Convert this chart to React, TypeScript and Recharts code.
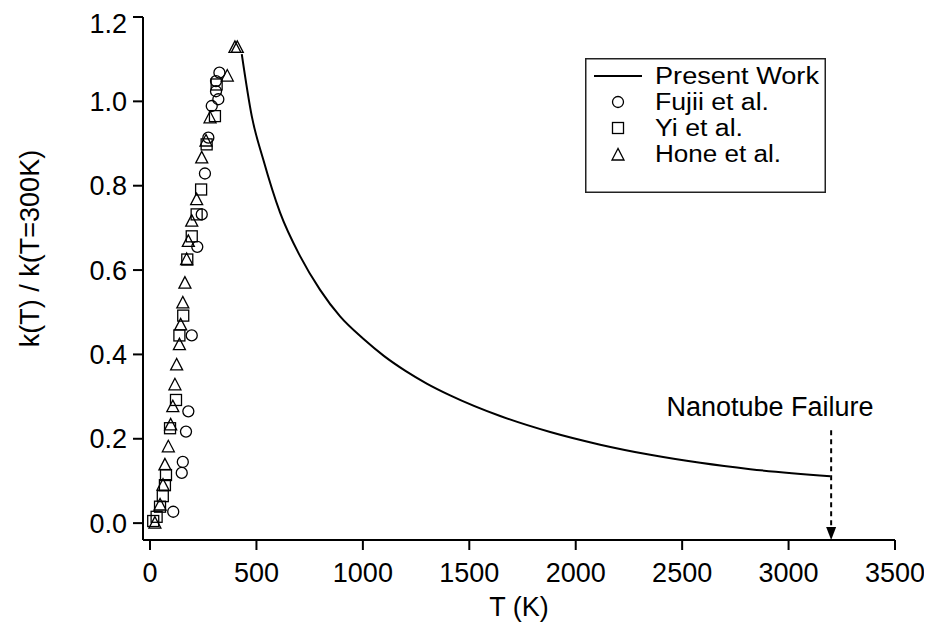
import {
  ComposedChart,
  Line,
  Scatter,
  XAxis,
  YAxis,
  Legend,
  ReferenceLine,
  ReferenceDot,
  Label,
} from "recharts";

const FONT = "'Liberation Sans', Arial, sans-serif";
const FS = 27;

// Present Work (model curve)
const presentT = [431, 478, 532, 611, 705, 799, 893, 1002, 1100, 1200, 1300, 1410, 1645, 1880, 2115, 2350, 2585, 2820, 3196];
const presentK = [1.112, 0.965, 0.862, 0.736, 0.633, 0.553, 0.49, 0.437, 0.396, 0.361, 0.331, 0.303, 0.254, 0.216, 0.186, 0.162, 0.143, 0.128, 0.111];

// Fujii et al.
const fujiiT = [109, 149, 154, 169, 180, 196, 222, 243, 258, 274, 290, 321, 310, 310, 326];
const fujiiK = [0.027, 0.119, 0.145, 0.217, 0.265, 0.445, 0.655, 0.732, 0.829, 0.914, 0.989, 1.005, 1.024, 1.048, 1.068];

// Yi et al.
const yiT = [15, 31, 47, 60, 70, 75, 94, 122, 138, 156, 175, 196, 219, 240, 266, 305, 313];
const yiK = [0.005, 0.015, 0.039, 0.064, 0.09, 0.114, 0.225, 0.292, 0.445, 0.492, 0.625, 0.68, 0.732, 0.791, 0.898, 0.965, 1.04];

// Hone et al.
const honeT = [23, 47, 61, 70, 86, 97, 107, 117, 125, 138, 144, 154, 164, 172, 180, 196, 219, 243, 263, 282, 363, 399, 410];
const honeK = [0.0, 0.043, 0.09, 0.138, 0.181, 0.233, 0.276, 0.328, 0.375, 0.423, 0.47, 0.522, 0.569, 0.625, 0.668, 0.716, 0.767, 0.866, 0.906, 0.961, 1.06, 1.128, 1.128];

const xTicks = [0, 500, 1000, 1500, 2000, 2500, 3000, 3500];
const yTicks = [0, 0.2, 0.4, 0.6, 0.8, 1.0, 1.2];

const failureT = 3200;

const toPoints = (ts: number[], ks: number[]) => ts.map((T, i) => ({ T, k: ks[i] }));

const presentData = toPoints(presentT, presentK);
const fujiiData = toPoints(fujiiT, fujiiK);
const yiData = toPoints(yiT, yiK);
const honeData = toPoints(honeT, honeK);

const CircleMark = (p: any) => (
  <circle cx={p.cx} cy={p.cy} r={5.5} fill="none" stroke="#000" strokeWidth={1.3} />
);
const SquareMark = (p: any) => (
  <rect x={p.cx - 5.5} y={p.cy - 5.5} width={11} height={11} fill="none" stroke="#000" strokeWidth={1.3} />
);
const TriangleMark = (p: any) => (
  <polygon
    points={`${p.cx},${p.cy - 6.5} ${p.cx - 6},${p.cy + 5} ${p.cx + 6},${p.cy + 5}`}
    fill="none"
    stroke="#000"
    strokeWidth={1.3}
  />
);

const FailureArrow = (p: any) => {
  const { x1, y1, x2, y2 } = p;
  return (
    <g>
      <line x1={x1} y1={y1} x2={x2} y2={y2 - 10} stroke="#000" strokeWidth={2} strokeDasharray="5 4" />
      <polygon points={`${x2},${y2} ${x2 - 5},${y2 - 13} ${x2 + 5},${y2 - 13}`} fill="#000" />
    </g>
  );
};

const FailureText = (p: any) => (
  <text x={p.cx} y={p.cy} textAnchor="middle" dominantBaseline="central" fontSize={FS} fontFamily={FONT} fill="#000">
    Nanotube Failure
  </text>
);

const legendRows = [
  { name: "Present Work", kind: "line", w: 164 },
  { name: "Fujii et al.", kind: "circle", w: 114 },
  { name: "Yi et al.", kind: "square", w: 88 },
  { name: "Hone et al.", kind: "triangle", w: 126 },
];

// legend box drawn as svg so the rows can sit as tight as in the original
const LegendBox = () => (
  <svg width={241} height={135} style={{ display: "block" }}>
    <rect x={0.75} y={0.75} width={239.5} height={133.5} fill="#fff" stroke="#222" strokeWidth={1.5} />
    {legendRows.map((r, i) => {
      const cy = 18 + i * 26;
      return (
        <g key={r.name}>
          {r.kind === "line" && <line x1={9} y1={cy} x2={57} y2={cy} stroke="#000" strokeWidth={2} />}
          {r.kind === "circle" && <CircleMark cx={33} cy={cy} />}
          {r.kind === "square" && <SquareMark cx={33} cy={cy} />}
          {r.kind === "triangle" && <TriangleMark cx={33} cy={cy + 1} />}
          <text
            x={70}
            y={cy}
            dominantBaseline="central"
            fontSize={23}
            fontFamily={FONT}
            fill="#000"
            textLength={r.w}
            lengthAdjust="spacingAndGlyphs"
          >
            {r.name}
          </text>
        </g>
      );
    })}
  </svg>
);

export default function App() {
  return (
    <div style={{ width: 916, height: 622, fontFamily: FONT }}>
      <ComposedChart width={916} height={622} margin={{ top: 9, right: 29, left: 0, bottom: 10 }}>
        <XAxis
          type="number"
          dataKey="T"
          domain={[-33, 3500]}
          ticks={xTicks}
          allowDataOverflow
          height={80}
          axisLine={{ stroke: "#000", strokeWidth: 2 }}
          tickLine={{ stroke: "#000", strokeWidth: 2 }}
          tickSize={10}
          tickMargin={13}
          tick={{ fontSize: FS, fill: "#000", fontFamily: FONT }}
        >
          <Label
            content={(props: any) => {
              const vb = props.viewBox;
              return (
                <text
                  x={vb.x + vb.width / 2}
                  y={vb.y + 67}
                  textAnchor="middle"
                  dominantBaseline="central"
                  fontSize={FS}
                  fontFamily={FONT}
                  fill="#000"
                >
                  T (K)
                </text>
              );
            }}
          />
        </XAxis>
        <YAxis
          type="number"
          dataKey="k"
          domain={[-0.04, 1.2]}
          ticks={yTicks}
          allowDataOverflow
          width={135}
          axisLine={{ stroke: "#000", strokeWidth: 2 }}
          tickLine={{ stroke: "#000", strokeWidth: 2 }}
          tickSize={10}
          tickMargin={6}
          tickFormatter={(v: number) => v.toFixed(1)}
          tick={{ fontSize: FS, fill: "#000", fontFamily: FONT }}
        >
          <Label
            content={(props: any) => {
              const vb = props.viewBox;
              const cx = 22;
              const cy = vb.y + vb.height / 2 - 30;
              return (
                <text
                  x={cx}
                  y={cy}
                  transform={`rotate(-90 ${cx} ${cy})`}
                  textAnchor="middle"
                  dominantBaseline="central"
                  fontSize={FS}
                  fontFamily={FONT}
                  fill="#000"
                >
                  k(T) / k(T=300K)
                </text>
              );
            }}
          />
        </YAxis>
        <Legend
          layout="vertical"
          align="center"
          verticalAlign="middle"
          content={() => <LegendBox />}
          wrapperStyle={{ left: 577, top: 50, width: "auto", height: "auto" }}
        />
        <Scatter name="Fujii et al." data={fujiiData} shape={CircleMark} isAnimationActive={false} />
        <Scatter name="Yi et al." data={yiData} shape={SquareMark} isAnimationActive={false} />
        <Scatter name="Hone et al." data={honeData} shape={TriangleMark} isAnimationActive={false} />
        <Line
          name="Present Work"
          data={presentData}
          dataKey="k"
          type="monotone"
          stroke="#000"
          strokeWidth={2}
          dot={false}
          activeDot={false}
          isAnimationActive={false}
        />
        <ReferenceLine
          segment={[
            { x: failureT, y: 0.22 },
            { x: failureT, y: -0.04 },
          ]}
          shape={FailureArrow}
        />
        <ReferenceDot x={2913} y={0.276} shape={FailureText} />
      </ComposedChart>
    </div>
  );
}
